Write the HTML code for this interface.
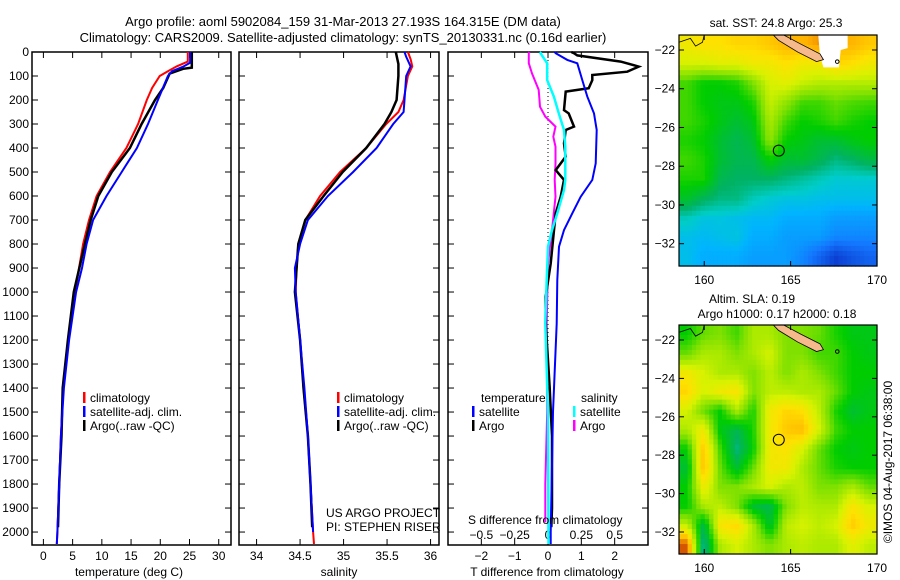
<!DOCTYPE html>
<html><head><meta charset="utf-8">
<style>
html,body{margin:0;padding:0;background:#fff;}
svg{display:block;font-family:"Liberation Sans",sans-serif;}
text{font-size:12px;fill:#000;}
</style></head>
<body>
<svg id="fig" width="900" height="580" viewBox="0 0 900 580" xmlns="http://www.w3.org/2000/svg">
<text x="343" y="26" text-anchor="middle" style="font-size:13px">Argo profile: aoml 5902084_159 31-Mar-2013 27.193S 164.315E (DM data)</text>
<text x="343" y="42" text-anchor="middle" style="font-size:13px">Climatology: CARS2009. Satellite-adjusted climatology: synTS_20130331.nc (0.16d earlier)</text>
<g id="maps"></g>
<g id="panels"></g>
</svg>
<script>
// ---------- DATA ----------
const depthTicks=[0,100,200,300,400,500,600,700,800,900,1000,1100,1200,1300,1400,1500,1600,1700,1800,1900,2000];
const tTicks=[0,5,10,15,20,25,30];
const sTicks=[34,34.5,35,35.5,36];
const sTickLabels=["34","34.5","35","35.5","36"];
const dTTicks=[-2,-1,0,1,2];
const dSTickLabels=["\u22120.5","\u22120.25","0","0.25","0.5"];
const dSTicks=[-0.5,-0.25,0,0.25,0.5];

const tClimDepth=[0,40,60,80,100,150,200,300,400,500,600,700,800,900,1000,1200,1400,1600,1800,2000,2050];
const tClim=[24.7,24.7,22.8,21.3,19.9,18.6,17.7,16.2,14.2,11.4,9.1,7.8,6.8,6.1,5.4,4.3,3.4,3.0,2.7,2.4,2.3];
const tSatDepth=[0,45,60,80,100,200,300,400,500,600,700,800,900,1000,1200,1400,1600,1800,2000,2050];
const tSat=[25.1,25.1,24.0,22.0,21.3,19.6,17.9,16.0,13.4,10.8,8.5,7.4,6.6,5.6,4.4,3.5,3.0,2.7,2.4,2.3];
const tArgoDepth=[0,65,70,90,150,200,300,400,500,600,700,800,1000,1200,1400,1600,1800,1980];
const tArgo=[25.4,25.4,23.9,21.6,20.5,19.1,16.8,14.8,11.7,9.4,8.1,7.1,5.2,4.2,3.3,3.1,2.7,2.5];

const sClimDepth=[0,30,60,100,200,250,300,400,450,500,600,700,800,900,1000,1200,1400,1600,1800,2000,2050];
const sClim=[35.74,35.77,35.79,35.74,35.69,35.63,35.49,35.26,35.11,34.96,34.73,34.56,34.48,34.46,34.45,34.50,34.54,34.59,34.62,34.65,34.66];
const sSatDepth=[0,20,60,100,200,250,300,400,500,600,700,800,900,1000,1200,1400,1600,1800,2000];
const sSat=[35.70,35.72,35.77,35.72,35.70,35.69,35.57,35.38,35.11,34.82,34.59,34.50,34.44,34.45,34.50,34.55,34.59,34.62,34.65];
const sArgoDepth=[0,50,100,200,250,300,400,500,600,700,800,1000,1200,1400,1600,1800,1980];
const sArgo=[35.60,35.63,35.63,35.61,35.55,35.47,35.26,34.99,34.77,34.56,34.48,34.44,34.50,34.54,34.59,34.62,34.64];

const dTSatDepth=[0,5,33,47,117,186,256,325,464,533,603,672,742,811,950,1131,1500,2000,2050];
const dTSat=[0.2,0.23,0.58,0.88,1.03,1.18,1.38,1.46,1.43,1.33,0.98,0.73,0.48,0.33,0.28,0.26,0.15,0.08,0.08];
const dTArgoDepth=[0,5,14,40,61,82,96,117,151,165,242,256,311,325,381,436,492,533,603,672,742,881,1019,1131,1400,1600,1900,1980];
const dTArgo=[0.7,0.78,0.88,2.18,2.72,2.38,1.33,1.33,1.22,0.53,0.48,0.62,0.78,0.53,0.48,0.53,0.23,0.48,0.38,0.23,0.18,0.08,-0.07,-0.07,0.05,0.12,0.12,0.1];
const dSSatDepth=[0,5,47,117,186,256,325,394,533,575,672,742,811,950,1131,1500,2050];
const dSSat=[-0.05,-0.056,-0.006,-0.006,0.044,0.081,0.12,0.13,0.13,0.12,0.07,0.03,0.0,-0.01,-0.02,0.0,0.004];
const dSArgoDepth=[0,5,47,89,158,228,269,311,353,394,464,533,603,742,881,1131,1500,1800,1960];
const dSArgo=[-0.14,-0.144,-0.144,-0.12,-0.07,-0.06,-0.02,0.056,0.04,0.056,0.056,0.05,0.056,0.03,0.0,-0.01,-0.006,-0.02,-0.02];

const sstGrid=[
[0.75,0.78,0.78,0.8,0.8,0.82,0.85,0.85,0.88,0.85,0.85,0.82],
[0.7,0.7,0.72,0.72,0.75,0.75,0.78,0.75,0.75,0.8,0.78,0.75],
[0.55,0.5,0.5,0.52,0.6,0.7,0.72,0.68,0.66,0.66,0.66,0.66],
[0.55,0.5,0.48,0.48,0.52,0.68,0.62,0.55,0.55,0.58,0.56,0.55],
[0.55,0.52,0.48,0.45,0.48,0.65,0.55,0.5,0.52,0.55,0.52,0.5],
[0.52,0.5,0.45,0.42,0.45,0.62,0.5,0.48,0.45,0.45,0.48,0.5],
[0.55,0.52,0.45,0.42,0.42,0.5,0.45,0.45,0.42,0.38,0.4,0.43],
[0.52,0.52,0.42,0.4,0.4,0.4,0.38,0.36,0.34,0.32,0.32,0.32],
[0.46,0.41,0.38,0.38,0.34,0.32,0.31,0.31,0.3,0.3,0.3,0.3],
[0.34,0.31,0.31,0.3,0.29,0.29,0.27,0.27,0.27,0.25,0.25,0.25],
[0.3,0.29,0.3,0.31,0.27,0.27,0.25,0.25,0.25,0.22,0.22,0.22],
[0.3,0.27,0.27,0.27,0.25,0.25,0.25,0.22,0.17,0.12,0.15,0.17]];
const slaGrid=[
[0.5,0.58,0.6,0.55,0.65,0.65,0.6,0.6,0.58,0.52,0.48,0.48],
[0.58,0.65,0.65,0.6,0.65,0.7,0.6,0.6,0.55,0.55,0.5,0.48],
[0.75,0.7,0.65,0.65,0.6,0.67,0.6,0.65,0.6,0.55,0.5,0.5],
[0.8,0.7,0.75,0.77,0.6,0.67,0.67,0.65,0.65,0.58,0.5,0.48],
[0.7,0.58,0.5,0.65,0.52,0.75,0.8,0.78,0.67,0.52,0.45,0.48],
[0.65,0.75,0.48,0.42,0.52,0.75,0.82,0.84,0.7,0.55,0.5,0.5],
[0.5,0.83,0.55,0.38,0.5,0.75,0.77,0.7,0.58,0.5,0.48,0.5],
[0.45,0.84,0.58,0.45,0.58,0.75,0.75,0.65,0.58,0.52,0.5,0.5],
[0.5,0.75,0.6,0.6,0.65,0.7,0.65,0.67,0.6,0.6,0.65,0.58],
[0.5,0.65,0.67,0.6,0.45,0.42,0.6,0.67,0.65,0.65,0.77,0.7],
[0.68,0.42,0.77,0.8,0.65,0.45,0.67,0.7,0.67,0.7,0.82,0.75],
[0.93,0.35,0.65,0.7,0.65,0.6,0.65,0.67,0.65,0.65,0.72,0.67]];
const latTicks=[-22,-24,-26,-28,-30,-32];
const lonTicks=[160,165,170];

// ---------- helpers ----------
const NS="http://www.w3.org/2000/svg";
function mk(tag,attrs,parent){const e=document.createElementNS(NS,tag);for(const k in attrs)e.setAttribute(k,attrs[k]);parent.appendChild(e);return e;}
function txt(s,x,y,anchor,parent,size){const t=mk('text',{x:x,y:y,'text-anchor':anchor||'start'},parent);if(size)t.style.fontSize=size+'px';t.textContent=s;return t;}
const TOP=52,BOT=545,D0=0,D1=2054;
function yD(d){return TOP+(d-D0)/(D1-D0)*(BOT-TOP);}
const panelsG=document.getElementById('panels');

function panel(name,x0,x1,vmin,vmax){
  const g=mk('g',{},panelsG);
  
  
  const sx=v=>x0+(v-vmin)/(vmax-vmin)*(x1-x0);
  return {g,sx,x0,x1};
}
function frame(p,withDepthLabels){
  const r=mk('rect',{x:p.x0,y:TOP,width:p.x1-p.x0,height:BOT-TOP,fill:'none',stroke:'#000','stroke-width':1.5},p.g);
  
  
  depthTicks.forEach(d=>{
    const y=yD(d);
    mk('line',{x1:p.x0,x2:p.x0+6,y1:y,y2:y,stroke:'#000'},p.g);
    mk('line',{x1:p.x1,x2:p.x1-6,y1:y,y2:y,stroke:'#000'},p.g);
    if(withDepthLabels){const t=txt(String(d),p.x0-3,y+4,'end',p.g);
      
      }
  });
}
function xticks(p,vals,labels,sx,y){
  vals.forEach((v,i)=>{
    const x=sx(v);
    mk('line',{x1:x,x2:x,y1:BOT,y2:BOT-6,stroke:'#000'},p.g);
    mk('line',{x1:x,x2:x,y1:TOP,y2:TOP+6,stroke:'#000'},p.g);
    const t=txt(labels[i],x,y,'middle',p.g);
    
    
  });
}
function line(p,depths,vals,sx,color,name,w){
  const pts=depths.map((d,i)=>sx(vals[i]).toFixed(1)+','+yD(d).toFixed(1)).join(' ');
  const l=mk('polyline',{points:pts,fill:'none',stroke:color,'stroke-width':w||2,'stroke-linejoin':'miter'},p.g);
  
  
}
function legendEntry(p,x,y,color,label,name){
  const g=mk('g',{},p.g);
  
  
  mk('rect',{x:x,y:y-10,width:2.5,height:11,fill:color},g);
  txt(label,x+7,y,'start',g);
}

// ---------- Panel 1: temperature ----------
const p1=panel('temperature-panel',32,231,-1.95,32.1);
frame(p1,true);
xticks(p1,tTicks,tTicks.map(String),p1.sx,560);
line(p1,tClimDepth,tClim,p1.sx,'#ff0000','temp-climatology-line');
line(p1,tArgoDepth,tArgo,p1.sx,'#000000','temp-argo-line',2.5);
line(p1,tSatDepth,tSat,p1.sx,'#0000ff','temp-satellite-line');
(function(){const t=txt('temperature (deg C)',129,576,'middle',p1.g);

})();
legendEntry(p1,83,402,'#ff0000','climatology','legend-entry-climatology');
legendEntry(p1,83,416,'#0000ff','satellite-adj. clim.','legend-entry-satellite');
legendEntry(p1,83,430,'#000000','Argo(..raw -QC)','legend-entry-argo');

// ---------- Panel 2: salinity ----------
const p2=panel('salinity-panel',239,439,33.798,36.097);
frame(p2,false);
xticks(p2,sTicks,sTickLabels,p2.sx,560);
line(p2,sClimDepth,sClim,p2.sx,'#ff0000','sal-climatology-line');
line(p2,sArgoDepth,sArgo,p2.sx,'#000000','sal-argo-line',2.5);
line(p2,sSatDepth,sSat,p2.sx,'#0000ff','sal-satellite-line');
(function(){const t=txt('salinity',339,576,'middle',p2.g);

})();
legendEntry(p2,337,402,'#ff0000','climatology','legend-entry-climatology');
legendEntry(p2,337,416,'#0000ff','satellite-adj. clim.','legend-entry-satellite');
legendEntry(p2,337,430,'#000000','Argo(..raw -QC)','legend-entry-argo');
(function(){const a=txt('US ARGO PROJECT',326,517,'start',p2.g);


const b=txt('PI: STEPHEN RISER',326,531,'start',p2.g);

})();

// ---------- Panel 3: differences ----------
const p3=panel('difference-panel',448,648,-3,3);
const sxS=v=>p3.sx(v*4);
frame(p3,false);
xticks(p3,dTTicks,dTTicks.map(v=>v<0?'\u2212'+(-v):String(v)),p3.sx,560);
dSTicks.forEach((v,i)=>{const t=txt(dSTickLabels[i],sxS(v),539,'middle',p3.g);

});
(function(){
const z=mk('line',{x1:p3.sx(0),x2:p3.sx(0),y1:TOP,y2:BOT,stroke:'#000','stroke-dasharray':'1,3'},p3.g);

})();
line(p3,dSArgoDepth,dSArgo,sxS,'#ff00ff','sal-argo-diff-line');
line(p3,dTArgoDepth,dTArgo,p3.sx,'#000000','temp-argo-diff-line',2.5);
line(p3,dTSatDepth,dTSat,p3.sx,'#0000ff','temp-satellite-diff-line');
line(p3,dSSatDepth,dSSat,sxS,'#00ffff','sal-satellite-diff-line',2.5);
(function(){
const a=txt('S difference from climatology',468,524,'start',p3.g);


const b=txt('T difference from climatology',547,576,'middle',p3.g);


const c=txt('temperature',481,402,'start',p3.g);


const d=txt('salinity',581,402,'start',p3.g);

})();
legendEntry(p3,472,416,'#0000ff','satellite','legend-entry-temp-satellite');
legendEntry(p3,472,430,'#000000','Argo','legend-entry-temp-argo');
legendEntry(p3,573,416,'#00ffff','satellite','legend-entry-sal-satellite');
legendEntry(p3,573,430,'#ff00ff','Argo','legend-entry-sal-argo');

// ---------- Maps ----------
const cstops=[[0.1,[10,50,200]],[0.2,[20,120,255]],[0.28,[0,180,255]],[0.33,[0,205,200]],[0.4,[0,178,100]],[0.5,[0,205,0]],[0.6,[128,225,0]],[0.7,[215,242,0]],[0.78,[255,225,0]],[0.86,[255,175,0]],[0.95,[200,60,0]]];
function cmap(v){
  if(v<=cstops[0][0])return cstops[0][1];
  for(let i=1;i<cstops.length;i++){if(v<=cstops[i][0]){const a=cstops[i-1],b=cstops[i];const f=(v-a[0])/(b[0]-a[0]);return a[1].map((c,k)=>Math.round(c+(b[1][k]-c)*f));}}
  return cstops[cstops.length-1][1];
}
function sample(grid,u,v){
  const n=grid.length,m=grid[0].length;
  const fx=Math.min(Math.max(u*m-0.5,0),m-1),fy=Math.min(Math.max(v*n-0.5,0),n-1);
  const x0=Math.floor(fx),y0=Math.floor(fy),x1=Math.min(x0+1,m-1),y1=Math.min(y0+1,n-1);
  const ax=fx-x0,ay=fy-y0;
  return grid[y0][x0]*(1-ax)*(1-ay)+grid[y0][x1]*ax*(1-ay)+grid[y1][x0]*(1-ax)*ay+grid[y1][x1]*ax*ay;
}
const mapsG=document.getElementById('maps');
function drawMap(name,grid,X0,X1,Y0,Y1,yLat22,yLat32,whiteGap){
  const g=mk('g',{},mapsG);
  
  
  const lonMin=158.54,lonMax=170.0;
  const sx=lon=>X0+(lon-lonMin)/(lonMax-lonMin)*(X1-X0);
  const ppd=(yLat32-yLat22)/10;
  const sy=lat=>yLat22+(-22-lat)*ppd;
  const N=46,M=46,cw=(X1-X0)/M,ch=(Y1-Y0)/N;
  for(let j=0;j<N;j++)for(let i=0;i<M;i++){
    const c=cmap(sample(grid,(i+0.5)/M,(j+0.5)/N));
    mk('rect',{x:(X0+i*cw).toFixed(2),y:(Y0+j*ch).toFixed(2),width:(cw+0.6).toFixed(2),height:(ch+0.6).toFixed(2),fill:'rgb('+c.join(',')+')'},g);
  }
  if(whiteGap){mk('polygon',{points:`${sx(166.6)},${Y0} ${sx(168.3)},${Y0} ${sx(168.3)},${sy(-21.9)} ${sx(167.9)},${sy(-22)} ${sx(167.8)},${sy(-22.9)} ${sx(166.9)},${sy(-22.9)} ${sx(166.7)},${sy(-22.3)}`,fill:'#fff'},g);}
  const land=mk('polygon',{points:`${sx(164.0)},${Y0} ${sx(164.6)},${Y0} ${sx(165.6)},${sy(-21.7)} ${sx(166.7)},${sy(-22.2)} ${sx(166.9)},${sy(-22.5)} ${sx(166.5)},${sy(-22.6)} ${sx(165.4)},${sy(-22.1)} ${sx(164.3)},${sy(-21.5)}`,fill:'#f5b98c',stroke:'#000','stroke-width':0.8},g);
  
  
  mk('path',{d:`M${X0} ${sy(-21.6)} L${sx(159.2)} ${sy(-21.4)} L${sx(159.5)} ${sy(-21.8)} L${sx(159.9)} ${sy(-21.6)} L${sx(160.0)} ${Y0}`,fill:'none',stroke:'#000','stroke-width':0.8},g);
  mk('circle',{cx:sx(167.7),cy:sy(-22.6),r:1.8,fill:'none',stroke:'#000'},g);
  const argo=mk('circle',{cx:sx(164.315),cy:sy(-27.193),r:5.5,fill:'none',stroke:'#000','stroke-width':1},g);
  
  
  mk('rect',{x:X0,y:Y0,width:X1-X0,height:Y1-Y0,fill:'none',stroke:'#000','stroke-width':1.2},g);
  latTicks.forEach(l=>{const y=sy(l);
    mk('line',{x1:X0,x2:X0+5,y1:y,y2:y,stroke:'#000'},g);
    mk('line',{x1:X1,x2:X1-5,y1:y,y2:y,stroke:'#000'},g);
    const t=txt('\u2212'+(-l),X0-4,y+4,'end',g);
    
    });
  lonTicks.forEach(l=>{const x=sx(l);
    mk('line',{x1:x,x2:x,y1:Y1,y2:Y1-5,stroke:'#000'},g);
    mk('line',{x1:x,x2:x,y1:Y0,y2:Y0+5,stroke:'#000'},g);
    const t=txt(String(l),x,Y1+18,'middle',g);
    
    });
}
drawMap('sst-map',sstGrid,679,877,35,266,50,243.7,true);
drawMap('sla-map',slaGrid,679,877,325,554,340,532,false);
(function(){
const a=txt('sat. SST: 24.8 Argo: 25.3',776,27,'middle',mapsG);


const b=txt('Altim. SLA: 0.19',752,303,'middle',mapsG);


const c=txt('Argo h1000: 0.17 h2000: 0.18',777,318,'middle',mapsG);


const d=txt('\u00a9IMOS 04-Aug-2017 06:38:00',0,0,'middle',mapsG);
d.setAttribute('transform','translate(892,462) rotate(-90)');

})();
</script>
</body></html>
